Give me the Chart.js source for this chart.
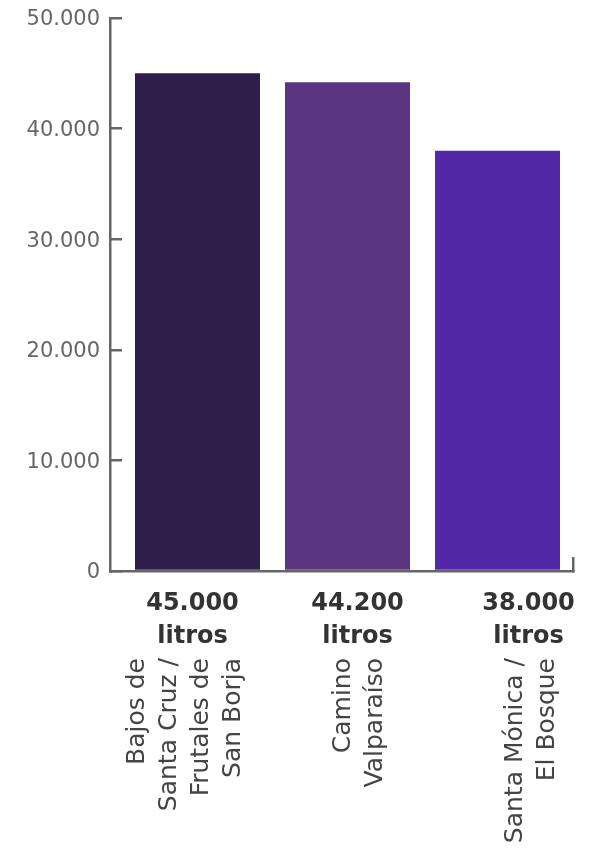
<!DOCTYPE html>
<html>
<head>
<meta charset="utf-8">
<script src="https://cdn.jsdelivr.net/npm/chart.js@4"></script>
<style>
  body { margin: 0; background: #fff; }
  #wrap { width: 597px; height: 850px; }
</style>
</head>
<body>
<div id="wrap"><canvas id="myChart"></canvas></div>
<script>
const categories = [
  ['Bajos de', 'Santa Cruz /', 'Frutales de', 'San Borja'],
  ['Camino', 'Valparaíso'],
  ['Santa Mónica /', 'El Bosque']
];
const litros = [45000, 44200, 38000];
const unit = 'litros';
const yMax = 50000;
const yStep = 10000;
const barColors = ['#301d4c', '#5a3680', '#5228a6'];

// small nudges so the labels sit where the original put them
const boldNudge = [-5, 10, 31];
const nameNudge = [-12, 12, 34];

const fmt = v => v.toLocaleString('de-DE');
const axisGray = '#666';

const ctx = document.querySelector('#myChart');

const xLabels = {
  id: 'xLabels',
  afterDraw(chart) {
    const c = chart.ctx;
    const x = chart.scales.x;
    const base = chart.chartArea.bottom;
    c.save();
    litros.forEach((v, i) => {
      const px = x.getPixelForValue(i);
      // bold value + unit
      c.fillStyle = '#333';
      c.font = 'bold 24px "DejaVu Sans"';
      c.textAlign = 'center';
      c.textBaseline = 'alphabetic';
      c.fillText(fmt(v), px + boldNudge[i], base + 39);
      c.fillText(unit, px + boldNudge[i], base + 72);
      // rotated category name
      const lines = categories[i];
      c.save();
      c.translate(px + nameNudge[i], base + 87);
      c.rotate(-Math.PI / 2);
      c.font = '25px "DejaVu Sans"';
      c.fillStyle = '#444';
      c.textAlign = 'right';
      c.textBaseline = 'middle';
      lines.forEach((ln, j) => {
        c.fillText(ln, 0, (j - (lines.length - 1) / 2) * 32);
      });
      c.restore();
    });
    c.restore();
  }
};

new Chart(ctx, {
  type: 'bar',
  data: {
    datasets: [{
      data: litros.map((v, i) => ({ x: i, y: v })),
      backgroundColor: barColors,
      barPercentage: 1,
      categoryPercentage: 125 / 150
    }]
  },
  options: {
    responsive: true,
    maintainAspectRatio: false,
    animation: false,
    layout: { padding: { top: 18, right: 24, left: 0, bottom: 0 } },
    plugins: { legend: { display: false }, tooltip: { enabled: false } },
    scales: {
      x: {
        type: 'linear',
        offset: false,
        min: -0.5833,
        max: 2.5033,
        afterBuildTicks: s => { s.ticks = [{ value: s.max }]; },
        afterFit: s => { s.height = 279; },
        ticks: { display: false },
        grid: {
          offset: false,
          drawOnChartArea: false,
          tickLength: -14,
          lineWidth: 2.5,
          color: axisGray
        },
        border: { color: axisGray, width: 2.5 }
      },
      y: {
        min: 0,
        max: yMax,
        afterFit: s => { s.width = 110; s.paddingTop = 0; s.paddingBottom = 0; },
        ticks: {
          stepSize: yStep,
          padding: 22,
          labelOffset: 2,
          color: '#666',
          font: { family: 'DejaVu Sans', size: 21 },
          callback: v => fmt(v)
        },
        grid: {
          drawOnChartArea: false,
          tickLength: -12,
          lineWidth: 2.5,
          color: axisGray
        },
        border: { color: axisGray, width: 2.5 }
      }
    }
  },
  plugins: [xLabels]
});
</script>
</body>
</html>
